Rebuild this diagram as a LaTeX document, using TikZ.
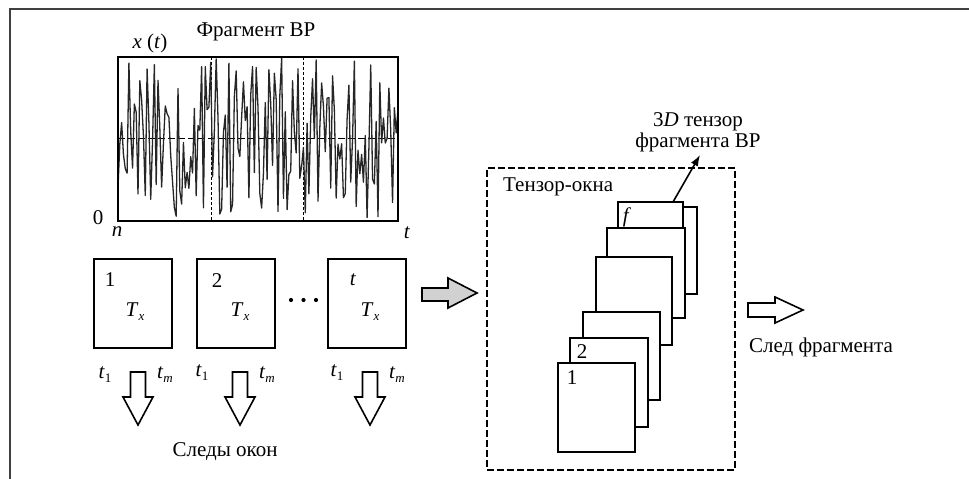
\documentclass[tikz,border=0pt]{standalone}
\usepackage{fontspec}
\setmainfont{Liberation Serif}
\usetikzlibrary{arrows.meta}
\newcommand\subt[2]{\textit{#1}\raisebox{-0.4ex}{\fontsize{13}{13}\selectfont #2}}
\tikzset{
  txt/.style={inner sep=0pt, font=\fontsize{21}{21}\selectfont},
  winbox/.style={draw, line width=2pt, fill=white, inner sep=0pt, minimum width=78pt, minimum height=89pt},
  layer/.style={draw, line width=2pt, fill=white, inner sep=0pt},
  hollow/.style={draw, line width=1.6pt, fill=white, line join=miter},
  grayarrow/.style={draw, line width=1.6pt, fill=black!18, line join=miter},
  frameline/.style={line width=1.2pt, black!75},
}
\begin{document}
\begin{tikzpicture}[x=1pt,y=-1pt]
\useasboundingbox (0,0) rectangle (969,479);
% outer frame (cropped)
\draw[frameline] (10,479) -- (10,9) -- (969,9);

% ---- signal plot
\draw[line width=1pt, dash pattern=on 7pt off 3pt] (118,138) -- (398,138);
\draw[line width=1pt, dash pattern=on 3pt off 2pt] (211,57) -- (211,221);
\draw[line width=1pt, dash pattern=on 3pt off 2pt] (303,57) -- (303,221);
\pgfmathsetseed{4242}
\draw[line width=1.3pt, black!85, line join=round] plot[domain=118:398, samples=155] (\x, {138+80*rand});
\node[draw, line width=1.5pt, inner sep=0pt, minimum width=280pt, minimum height=164pt] (plot) at (258,139) {};
\node[txt] (title) at (256,32) {Фрагмент ВР};
\node[txt] (xt) at (150,43) {\textit{x} (\textit{t})};
\node[txt] (zero) at (98,218) {0};
\node[txt] (nlab) at (117,232) {\textit{n}};
\node[txt] (tlab) at (407,233) {\textit{t}};

% ---- window boxes
\node[winbox] (w1) at (133,303.5) {};
\node[winbox] (w2) at (236,303.5) {};
\node[winbox] (w3) at (367,303.5) {};
\node[txt] at (110,280) {1};
\node[txt] at (217,281) {2};
\node[txt] at (353,280) {\textit{t}};
\node[txt] at (135,312) {\subt{T}{\textit{x}}};
\node[txt] at (240,312) {\subt{T}{\textit{x}}};
\node[txt] at (370,312) {\subt{T}{\textit{x}}};
\fill (291,300) circle (2.1pt) (303.5,300) circle (2.1pt) (316,300) circle (2.1pt);
\node[txt] at (105,375) {\subt{t}{1}};
\node[txt] at (165,375) {\subt{t}{\textit{m}}};
\node[txt] at (202,373) {\subt{t}{1}};
\node[txt] at (267,375) {\subt{t}{\textit{m}}};
\node[txt] at (337,373) {\subt{t}{1}};
\node[txt] at (397,375) {\subt{t}{\textit{m}}};
% hollow down arrows
\foreach \c in {138,240,370}{
  \draw[hollow] (\c-7.5,372) -- (\c+7.5,372) -- (\c+7.5,397) -- (\c+15,397) -- (\c,425) -- (\c-15,397) -- (\c-7.5,397) -- cycle;
}
\node[txt] (traces) at (225,452) {Следы окон};

% gray arrow
\draw[grayarrow] (422,288) -- (448,288) -- (448,278) -- (477,293) -- (448,308) -- (448,301) -- (422,301) -- cycle;

% ---- tensor windows
\node[draw, line width=1.7pt, dash pattern=on 7pt off 3pt, inner sep=0pt, minimum width=248pt, minimum height=302pt] (tbox) at (611,319) {};
\node[txt, anchor=west] (tw) at (503,187) {Тензор-окна};
\node[layer, minimum width=78pt, minimum height=87pt] (r7) at (658,250.5) {};
\node[layer, minimum width=65pt, minimum height=89pt] (r6) at (650.5,246.5) {};
\node[layer, minimum width=78pt, minimum height=90pt] (r5) at (646,273) {};
\node[layer, minimum width=76pt, minimum height=88pt] (r4) at (634,301) {};
\node[layer, minimum width=77pt, minimum height=88pt] (r3) at (621.5,356) {};
\node[layer, minimum width=78pt, minimum height=89pt] (r2) at (609,382.5) {};
\node[layer, minimum width=77pt, minimum height=89pt] (r1) at (596.5,407.5) {};
\node[txt] at (627,217) {\textit{f}};
\node[txt] at (582,352) {2};
\node[txt] at (572,378) {1};
\node[txt, align=center] (tens) at (698,132) {3\textit{D} тензор\\фрагмента ВР};
\coordinate (fstart) at (673,202);
\coordinate (ftip) at (700,155);
\draw[line width=1.6pt, -{Latex[length=11pt,width=8pt]}] (fstart) -- (ftip);

% output arrow
\draw[hollow] (748,303) -- (775,303) -- (775,297) -- (803,310) -- (775,323) -- (775,317) -- (748,317) -- cycle;
\node[txt] (trace) at (821,347) {След фрагмента};
\end{tikzpicture}
\end{document}
